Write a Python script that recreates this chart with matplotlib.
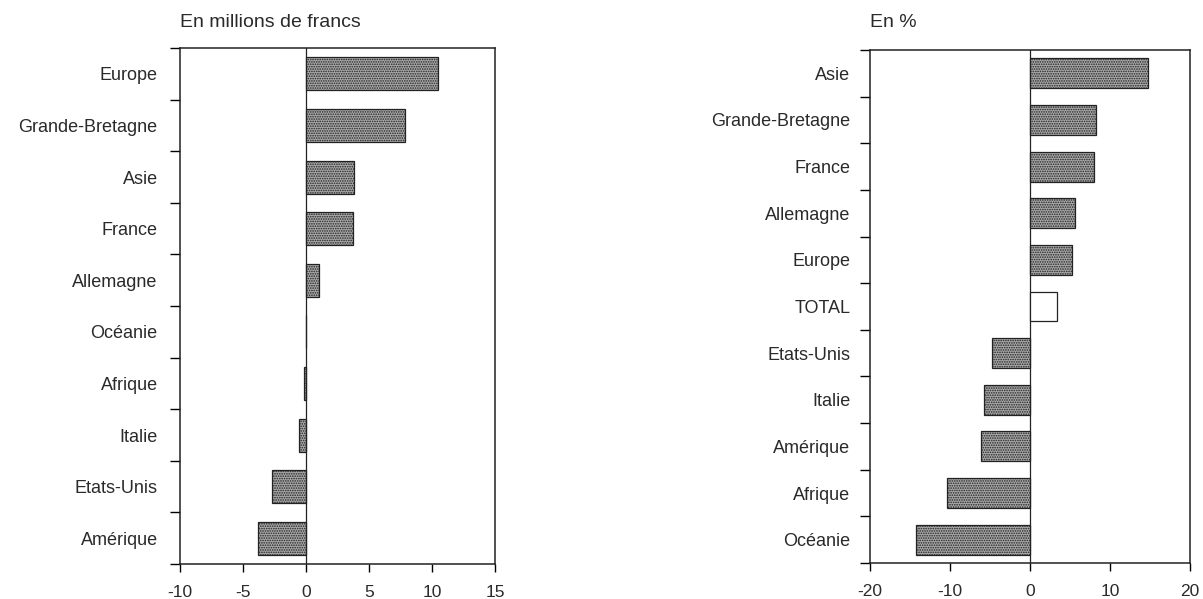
import numpy as np
import matplotlib.pyplot as plt

plt.rcParams['font.family'] = ['Liberation Sans', 'DejaVu Sans']
plt.rcParams['hatch.linewidth'] = 0.8
plt.rcParams['hatch.color'] = '#2a2a2a'

# left panel: en millions de francs
left_labels = ['Europe', 'Grande-Bretagne', 'Asie', 'France', 'Allemagne',
               'Océanie', 'Afrique', 'Italie', 'Etats-Unis', 'Amérique']
left_values = [10.5, 7.9, 3.8, 3.7, 1.0, 0.0, -0.15, -0.55, -2.7, -3.8]

# right panel: en %
right_labels = ['Asie', 'Grande-Bretagne', 'France', 'Allemagne', 'Europe',
                'TOTAL', 'Etats-Unis', 'Italie', 'Amérique', 'Afrique', 'Océanie']
right_values = [14.7, 8.2, 8.0, 5.6, 5.3, 3.4, -4.8, -5.8, -6.1, -10.4, -14.2]

txt = '#2a2a2a'
fig = plt.figure(figsize=(12.03, 5.99), dpi=100)


def panel(rect, labels, values, xlim, xticks, title, pad):
    ax = fig.add_axes(rect)
    n = len(labels)
    y = np.arange(n)
    for yi, v, lab in zip(y, values, labels):
        if lab == 'TOTAL':
            ax.barh(yi, v, height=0.64, color='white', edgecolor='#222', lw=0.9)
        else:
            ax.barh(yi, v, height=0.64, color='#a9a9a9', edgecolor='#222',
                    hatch='.......', lw=0.9)
    ax.axvline(0, color='#222', lw=0.9, zorder=0)
    ax.set_xlim(*xlim)
    ax.set_ylim(n - 0.5, -0.5)
    ax.set_xticks(xticks)
    ax.set_xticklabels([str(t) for t in xticks], fontsize=12.5, color=txt)
    ax.set_yticks(y)
    ax.set_yticklabels(labels, fontsize=13, color=txt)
    ax.set_yticks(np.arange(n + 1) - 0.5, minor=True)
    ax.tick_params(axis='y', which='major', length=0, pad=pad)
    ax.tick_params(axis='y', which='minor', length=7, width=1, direction='out')
    ax.tick_params(axis='x', length=6, width=1, direction='out', pad=9)
    for s in ax.spines.values():
        s.set_linewidth(1.1)
        s.set_color('#222')
    fig.text(rect[0], 0.962, title, fontsize=14, color=txt, ha='left', va='center')
    return ax


panel([0.1496, 0.0584, 0.2618, 0.8614], left_labels, left_values,
      (-10, 15), [-10, -5, 0, 5, 10, 15], 'En millions de francs', 16)
panel([0.7232, 0.0601, 0.266, 0.8564], right_labels, right_values,
      (-20, 20), [-20, -10, 0, 10, 20], 'En %', 14)

fig.savefig('out.png', dpi=100)
